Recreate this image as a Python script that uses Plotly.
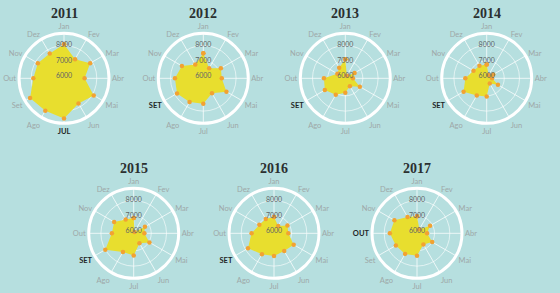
import plotly.graph_objects as go

months = ["Jan", "Fev", "Mar", "Abr", "Mai", "Jun", "Jul", "Ago", "Set", "Out", "Nov", "Dez"]
years = ["2011", "2012", "2013", "2014", "2015", "2016", "2017"]
highlight = {"2011": "Jul", "2012": "Set", "2013": "Set", "2014": "Set",
             "2015": "Set", "2016": "Set", "2017": "Out"}

v2011 = [8090, 7300, 7830, 7200, 8100, 7750, 8480, 8300, 8420, 7860, 7830, 7720]
v2012 = [7490, 6620, 7180, 7060, 7600, 6990, 7520, 7650, 7840, 7710, 7470, 6900]
v2013 = [7100, 6050, 6550, 6350, 6950, 6450, 6800, 7100, 7400, 7250, 6450, 6650]
v2014 = [6750, 6100, 6350, 6200, 6700, 6250, 7050, 7150, 7600, 7250, 6850, 6800]
v2015 = [6860, 5950, 6700, 6550, 7040, 6600, 7300, 7260, 8000, 7280, 7330, 6900]
v2016 = [6920, 6400, 6870, 6790, 7340, 7190, 7340, 7430, 7820, 7320, 6960, 6930]
v2017 = [6970, 6160, 6840, 6510, 7000, 6690, 7320, 7410, 7450, 7630, 7560, 7090]
values = [v2011, v2012, v2013, v2014, v2015, v2016, v2017]

radial_ticks = [6000, 7000, 8000]
r_range = [5850, 8800]

W, H = 560, 293
centers = [(64, 78.3), (203.3, 78.3), (345.3, 78.3), (486.7, 78.3),
           (133.7, 233.3), (274, 233.3), (417, 233.3)]
R = 45

BG = "#b6dfdf"
FILL = "#e8de2e"
MARK = "#f2a232"

fig = go.Figure()
layout = dict(
    width=W, height=H, margin=dict(l=0, r=0, t=0, b=0),
    paper_bgcolor=BG, plot_bgcolor=BG, showlegend=False,
    annotations=[],
)

for i, (yr, vals) in enumerate(zip(years, values)):
    key = "polar" if i == 0 else f"polar{i+1}"
    sub = "polar" if i == 0 else f"polar{i+1}"
    cx, cy = centers[i]
    fig.add_trace(go.Scatterpolar(
        r=vals + [vals[0]], theta=months + [months[0]],
        mode="markers", fill="toself", fillcolor=FILL,
        line=dict(color=FILL, width=0.5),
        marker=dict(color=MARK, size=4.5),
        subplot=sub, hoverinfo="skip",
    ))
    fig.add_trace(go.Scatterpolar(
        r=radial_ticks, theta=[months[0]] * len(radial_ticks),
        mode="text", text=[str(t) for t in radial_ticks],
        textfont=dict(family="Lato", size=7, color="#5f6666"),
        subplot=sub, hoverinfo="skip",
    ))
    ticktext = []
    for m in months:
        if m == highlight[yr]:
            ticktext.append(f"<span style='color:#1e2626'><b>{m.upper()}</b></span>")
        else:
            ticktext.append(m)
    layout[key] = dict(
        domain=dict(x=[(cx - R) / W, (cx + R) / W],
                    y=[(H - cy - R) / H, (H - cy + R) / H]),
        bgcolor="rgba(0,0,0,0)",
        radialaxis=dict(range=r_range, tickvals=radial_ticks, showticklabels=False,
                        ticks="", showline=False, gridcolor="rgba(255,255,255,0.6)",
                        gridwidth=0.7),
        angularaxis=dict(type="category", categoryarray=months, rotation=90,
                         direction="clockwise", tickvals=months, ticktext=ticktext,
                         ticks="", showline=True, linecolor="white", linewidth=3,
                         gridcolor="rgba(255,255,255,0.75)", gridwidth=0.7,
                         tickfont=dict(family="Lato", size=7.5, color="#9ea8a8")),
    )
    layout["annotations"].append(dict(
        text=f"<b>{yr}</b>", x=cx / W, y=(H - (cy - 65)) / H,
        xref="paper", yref="paper", showarrow=False,
        xanchor="center", yanchor="middle",
        font=dict(family="Liberation Serif", size=14, color="#2b3030"),
    ))

fig.update_layout(**layout)
fig.write_html("out.html")
